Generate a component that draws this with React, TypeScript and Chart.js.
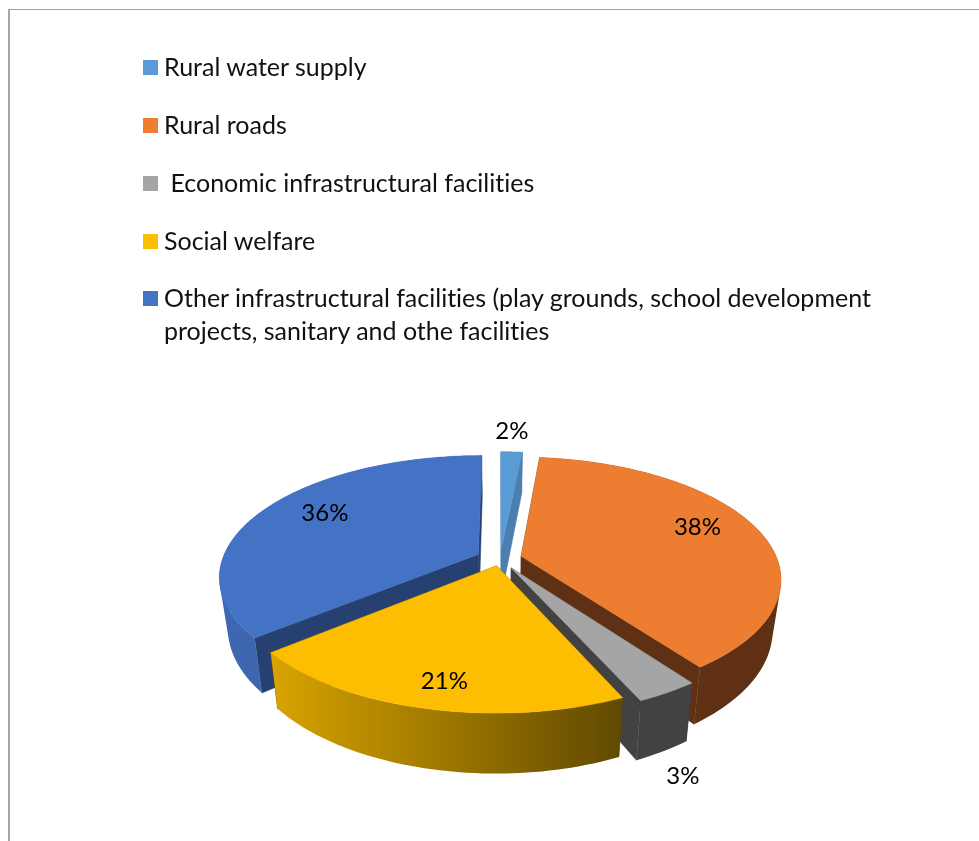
import React, { useEffect, useRef } from "react";
import { Chart, registerables } from "chart.js";

Chart.register(...registerables);

const categories = [
  "Rural water supply",
  "Rural roads",
  " Economic infrastructural facilities",
  "Social welfare",
  "Other infrastructural facilities (play grounds, school development\nprojects, sanitary and othe facilities",
];
const shares = [1.6, 38.4, 3.3, 20.7, 36];
const topColors = ["#5b9bd5", "#ed7d31", "#a5a5a5", "#fdbd00", "#4472c4"];
const rimStart = ["#4a7fb0", "#5f3013", "#424242", "#d9a400", "#3f68b2"];
const rimEnd = ["#4a7fb0", "#5f3013", "#424242", "#604900", "#365a9c"];
const edgeColors = ["#4a7fb0", "#5f3013", "#424242", "#604900", "#264071"];
const explode = [22, 22, 22, 15, 24];
const labelTurn = [0.0068, 0.196, 0.4412, 0.533, 0.832];
const labelDist = [1.349, 0.86, 1.485, 0.89, 0.845];
const legendCenters = [67, 125, 183, 241, 298];

const SQUASH = 0.461;
const PERSPECTIVE = 0.18;
const DEPTH = 49;
const FLOOR_SHRINK = 0.97;
const FONT = "Lato, 'Open Sans', sans-serif";

type Pt = { x: number; y: number };

const pie3d = {
  id: "pie3d",
  beforeDatasetDraw() {
    return false;
  },
  afterDatasetsDraw(chart: any) {
    const ctx: CanvasRenderingContext2D = chart.ctx;
    const arcs: any[] = chart.getDatasetMeta(0).data;
    const R = arcs[0].outerRadius;
    const cx = arcs[0].x;
    const cy = arcs[0].y;

    const project = (mx: number, my: number, down: boolean): Pt => {
      const w = 1 / (1 - (PERSPECTIVE * my) / R);
      const x = mx * w;
      const y = my * SQUASH * w;
      return down
        ? { x: cx + x * FLOOR_SHRINK, y: cy + y + DEPTH * w }
        : { x: cx + x, y: cy + y };
    };
    const trace = (pts: Pt[]) => {
      pts.forEach((p, i) => (i ? ctx.lineTo(p.x, p.y) : ctx.moveTo(p.x, p.y)));
      ctx.closePath();
    };
    const paint = (fill: any) => {
      ctx.fillStyle = fill;
      ctx.fill();
      ctx.strokeStyle = fill;
      ctx.lineWidth = 0.5;
      ctx.stroke();
    };
    const poly = (pts: Pt[], fill: any) => {
      ctx.beginPath();
      trace(pts);
      paint(fill);
    };
    const area = (pts: Pt[]) =>
      pts.reduce((sum, p, i) => {
        const q = pts[(i + 1) % pts.length];
        return sum + p.x * q.y - q.x * p.y;
      }, 0);

    const order = arcs
      .map((a, i) => ({ a, i, my: Math.sin((a.startAngle + a.endAngle) / 2) }))
      .sort((p, q) => p.my - q.my);

    ctx.save();
    for (const { a, i } of order) {
      const mid = (a.startAngle + a.endAngle) / 2;
      const off = a.options.offset || 0;
      const ox = Math.cos(mid) * off;
      const oy = Math.sin(mid) * off;
      const steps = Math.max(2, Math.ceil((a.endAngle - a.startAngle) * 40));
      const top: Pt[] = [];
      const bottom: Pt[] = [];
      for (let s = 0; s <= steps; s++) {
        const t = a.startAngle + ((a.endAngle - a.startAngle) * s) / steps;
        const mx = ox + R * Math.cos(t);
        const my = oy + R * Math.sin(t);
        top.push(project(mx, my, false));
        bottom.push(project(mx, my, true));
      }
      const apexTop = project(ox, oy, false);
      const apexBottom = project(ox, oy, true);
      const xs = top.map((p) => p.x);
      const grad = ctx.createLinearGradient(Math.min(...xs), 0, Math.max(...xs), 0);
      grad.addColorStop(0, rimStart[i]);
      grad.addColorStop(1, rimEnd[i]);
      poly([apexTop, top[0], bottom[0], apexBottom], edgeColors[i]);
      poly([apexTop, top[steps], bottom[steps], apexBottom], edgeColors[i]);
      ctx.beginPath();
      for (let s = 0; s < steps; s++) {
        const quad = [top[s], top[s + 1], bottom[s + 1], bottom[s]];
        trace(area(quad) < 0 ? quad.reverse() : quad);
      }
      ctx.fillStyle = grad;
      ctx.fill("nonzero");
      poly([apexTop, ...top], topColors[i]);
    }

    ctx.fillStyle = "#000";
    ctx.font = `24px ${FONT}`;
    ctx.textAlign = "center";
    ctx.textBaseline = "middle";
    shares.forEach((v, i) => {
      const t = labelTurn[i] * 2 * Math.PI - Math.PI / 2;
      const p = project(R * labelDist[i] * Math.cos(t), R * labelDist[i] * Math.sin(t), false);
      ctx.fillText(`${Math.round(v)}%`, p.x, p.y);
    });
    ctx.restore();
  },
};

export default function App() {
  const ref = useRef<HTMLCanvasElement>(null);
  useEffect(() => {
    const chart = new Chart(ref.current!, {
      type: "pie",
      data: {
        labels: categories,
        datasets: [
          {
            data: shares,
            backgroundColor: topColors,
            offset: explode,
            borderWidth: 0,
          },
        ],
      },
      options: {
        responsive: false,
        animation: false,
        radius: 256,
        layout: { padding: { left: 21, top: 277 } },
        plugins: { legend: { display: false }, tooltip: { enabled: false } },
      },
      plugins: [pie3d],
    } as any);
    return () => chart.destroy();
  }, []);

  return (
    <div style={{ position: "absolute", left: 0, top: 0, width: 979, height: 841, overflow: "hidden", background: "#fff", fontFamily: FONT }}>
      <div style={{ position: "absolute", left: 8, top: 9, right: 0, height: 1, background: "#a0a0a0" }} />
      <div style={{ position: "absolute", left: 8, top: 9, bottom: 0, width: 2, background: "#a6a6a6" }} />
      <canvas ref={ref} width={979} height={841} style={{ position: "absolute", left: 0, top: 0, display: "block" }} />
      {categories.map((c, i) => (
        <React.Fragment key={i}>
          <div style={{ position: "absolute", left: 143, top: legendCenters[i] - 7, width: 15, height: 15, background: topColors[i] }} />
          <div style={{ position: "absolute", left: 164, top: legendCenters[i] - 17, fontSize: 25, lineHeight: "33px", color: "#111", whiteSpace: "pre", fontVariantLigatures: "none" }}>{c}</div>
        </React.Fragment>
      ))}
    </div>
  );
}
